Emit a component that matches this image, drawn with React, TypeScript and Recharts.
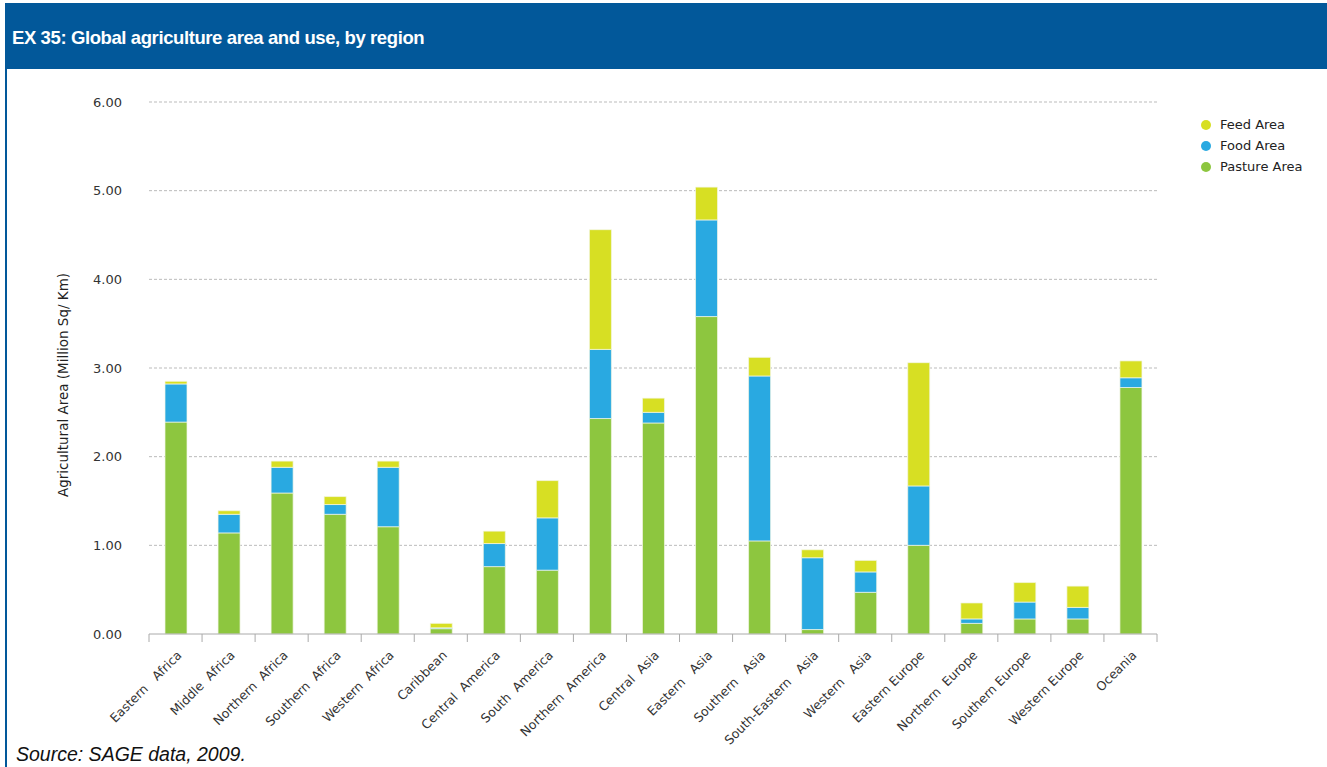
import { BarChart, Bar, XAxis, YAxis, CartesianGrid } from "recharts"

const REGIONS = [
  "Eastern   Africa", "Middle  Africa", "Northern  Africa", "Southern  Africa", "Western  Africa",
  "Caribbean", "Central  America", "South  America", "Northern  America", "Central  Asia",
  "Eastern   Asia", "Southern   Asia", "South-Eastern   Asia", "Western   Asia", "Eastern Europe",
  "Northern  Europe", "Southern Europe", "Western Europe", "Oceania",
]
const PASTURE = [2.39, 1.14, 1.59, 1.35, 1.21, 0.06, 0.76, 0.72, 2.43, 2.38, 3.58, 1.05, 0.05, 0.47, 1.0, 0.12, 0.17, 0.17, 2.78]
const FOOD = [0.43, 0.21, 0.29, 0.11, 0.67, 0.01, 0.26, 0.59, 0.78, 0.12, 1.09, 1.86, 0.81, 0.23, 0.67, 0.05, 0.19, 0.13, 0.11]
const FEED = [0.03, 0.04, 0.07, 0.09, 0.07, 0.05, 0.14, 0.42, 1.35, 0.16, 0.37, 0.21, 0.09, 0.13, 1.39, 0.18, 0.22, 0.24, 0.19]
const Y_TICKS = [0, 1, 2, 3, 4, 5, 6]

const SERIES = [
  { key: "pasture", name: "Pasture Area", color: "#8dc63f" },
  { key: "food", name: "Food Area", color: "#29a9e1" },
  { key: "feed", name: "Feed Area", color: "#d7df23" },
]

const data = REGIONS.map((region, i) => ({
  region,
  pasture: PASTURE[i],
  food: FOOD[i],
  feed: FEED[i],
}))

const PLOT_LEFT = 149
const PLOT_RIGHT = 1157
const BAND = (PLOT_RIGHT - PLOT_LEFT) / REGIONS.length
const FONT = "'DejaVu Sans', Verdana, sans-serif"
const ARIAL = "'Liberation Sans', Arial, sans-serif"

function RegionTick(props: any) {
  const { x, y, payload, index } = props
  const last = index === REGIONS.length - 1
  const tx = x + 7
  const ty = y + 14
  return (
    <g>
      <line x1={x - BAND / 2} y1={y - 8} x2={x - BAND / 2} y2={y} stroke="#aaaaaa" />
      {last && <line x1={x + BAND / 2} y1={y - 8} x2={x + BAND / 2} y2={y} stroke="#aaaaaa" />}
      <text
        x={tx}
        y={ty}
        transform={`rotate(-45 ${tx} ${ty})`}
        textAnchor="end"
        fontSize={12.5}
        fill="#333"
        fontFamily={FONT}
        style={{ whiteSpace: "pre" }}
      >
        {payload.value}
      </text>
    </g>
  )
}

function LegendList() {
  return (
    <div style={{ fontFamily: FONT, fontSize: 13, color: "#222" }}>
      {[...SERIES].reverse().map((s) => (
        <div key={s.key} style={{ display: "flex", alignItems: "center", height: 21 }}>
          <span
            style={{
              width: 10,
              height: 10,
              borderRadius: "50%",
              background: s.color,
              display: "inline-block",
              marginRight: 9,
            }}
          />
          {s.name}
        </div>
      ))}
    </div>
  )
}

export default function App() {
  return (
    <div style={{ position: "absolute", left: 0, top: 0, width: 1327, height: 767, background: "#fff", overflow: "hidden" }}>
      {/* title bar and left border */}
      <div style={{ position: "absolute", left: 5, top: 3, right: 0, height: 66, background: "#02589a" }} />
      <div style={{ position: "absolute", left: 5, top: 69, width: 2, bottom: 0, background: "#02589a" }} />
      <div
        style={{
          position: "absolute",
          left: 12,
          top: 27,
          color: "#fff",
          fontFamily: ARIAL,
          fontWeight: "bold",
          fontSize: 18.5,
          letterSpacing: -0.4,
        }}
      >
        EX 35: Global agriculture area and use, by region
      </div>

      <div style={{ position: "absolute", left: 0, top: 0 }}>
        <BarChart
          width={1327}
          height={767}
          data={data}
          margin={{ top: 102, right: 1327 - PLOT_RIGHT, left: 59, bottom: 23 }}
        >
          <CartesianGrid
            vertical={false}
            stroke="#bbbbbb"
            strokeDasharray="3 2"
            horizontalValues={[1, 2, 3, 4, 5, 6]}
          />
          <XAxis
            dataKey="region"
            interval={0}
            height={110}
            tickLine={false}
            axisLine={{ stroke: "#aaaaaa" }}
            tick={<RegionTick />}
          />
          <YAxis
            width={90}
            domain={[0, 6]}
            ticks={Y_TICKS}
            tickFormatter={(v: number) => v.toFixed(2)}
            axisLine={false}
            tickLine={false}
            tickSize={0}
            tickMargin={27}
            tick={{ fontSize: 13, fill: "#333", fontFamily: FONT }}
          />
          {SERIES.map((s) => (
            <Bar
              key={s.key}
              dataKey={s.key}
              name={s.name}
              stackId="a"
              fill={s.color}
              stroke="#f3f7e6"
              strokeWidth={0.7}
              barSize={22}
              isAnimationActive={false}
            />
          ))}
        </BarChart>
      </div>

      <div style={{ position: "absolute", left: 1201, top: 114 }}>
        <LegendList />
      </div>

      <div
        style={{
          position: "absolute",
          left: 63,
          top: 385,
          transform: "translate(-50%, -50%) rotate(-90deg)",
          whiteSpace: "nowrap",
          fontFamily: FONT,
          fontSize: 13.5,
          color: "#222",
        }}
      >
        Agricultural Area (Million Sq/ Km)
      </div>

      <div
        style={{
          position: "absolute",
          left: 16,
          top: 743,
          fontFamily: ARIAL,
          fontStyle: "italic",
          fontSize: 19.5,
          color: "#111",
        }}
      >
        Source: SAGE data, 2009.
      </div>
    </div>
  )
}
